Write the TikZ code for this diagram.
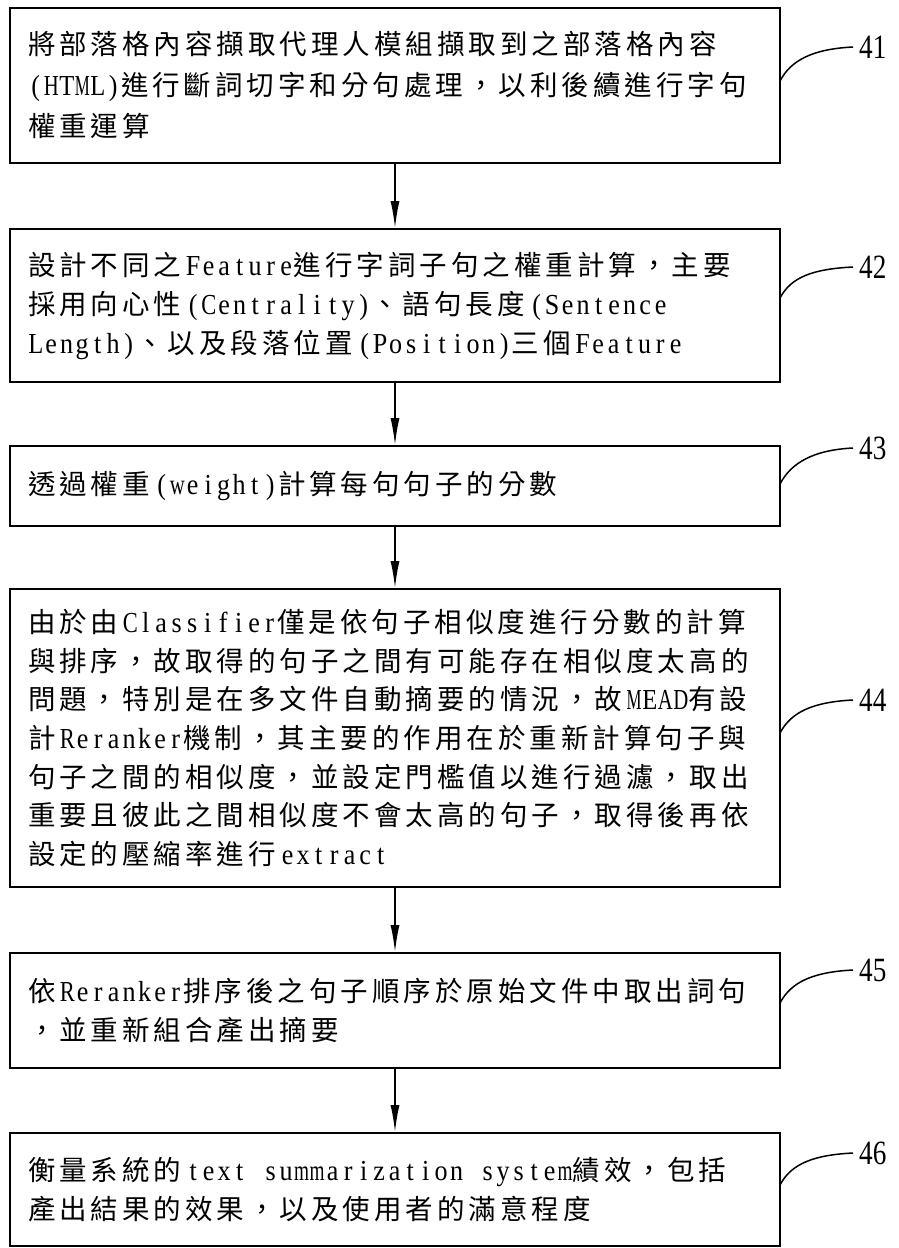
\documentclass[tikz,border=0pt]{standalone}
\usepackage{fontspec}
\setmainfont{Liberation Serif}
\newfontfamily\cjkf{Noto Sans CJK TC}
\newfontfamily\enf[FakeStretch=0.9]{Liberation Serif}
\newfontfamily\numf[FakeStretch=0.8]{Liberation Serif}
\usetikzlibrary{arrows.meta,calc}
% inter-character tracking for CJK (full-width cells of 31.5pt)
\newlength\cjkgap \setlength\cjkgap{4pt}
\makeatletter
\@tempcnta="3000
\loop
  \XeTeXcharclass\@tempcnta=200
  \advance\@tempcnta\@ne
\ifnum\@tempcnta<"A000 \repeat
\XeTeXcharclass"FF0C=200
\XeTeXinterchartokenstate=1
\XeTeXinterchartoks 200 200 = {\kern\cjkgap\relax}
% half-width Latin cells of 15.5pt
\newlength\encell \setlength\encell{15.5pt}
\newlength\enmax \setlength\enmax{15pt}
\newlength\enw
\newcommand\ENc[1]{\settowidth\enw{#1}\makebox[\encell][c]{\ifdim\enw>\enmax\scalebox{\fpeval{\enmax/\enw}}[1]{#1}\else#1\fi}}
\newcommand\ENs[1]{{\enf\fontsize{29}{39}\selectfont\@tfor\en@c:=#1\do{\ENc{\en@c}}}}
\newcommand\EN[1]{\kern\cjkgap\ENs{#1}}
\makeatother
\tikzset{
  stepbox/.style={draw, line width=1.8pt, minimum width=770pt, text width=734pt,
    inner xsep=18pt, inner ysep=0pt, align=left,
    font=\cjkf\fontsize{27.5}{39}\selectfont},
  arr/.style={line width=1.6pt, -{Latex[length=27pt,width=9pt]}},
  lead/.style={line width=1.5pt},
  lab/.style={anchor=west, inner xsep=6pt, inner ysep=0pt,
    font=\numf\fontsize{34}{34}\selectfont}
}
\begin{document}
\begin{tikzpicture}[x=1pt,y=-1pt]
\fill[white] (0,0) rectangle (899,1248);
\useasboundingbox (0,0) rectangle (899,1248);

\node[stepbox, minimum height=155pt, font=\cjkf\fontsize{27.5}{41}\selectfont] (b41) at (395,85.5) {將部落格內容擷取代理人模組擷取到之部落格內容\\\ENs{(HTML)}進行斷詞切字和分句處理，以利後續進行字句\\權重運算};
\node[stepbox, minimum height=153pt] (b42) at (395,305.5) {設計不同之\EN{Feature}進行字詞子句之權重計算，主要\\採用向心性\EN{(Centrality)}、語句長度\EN{(Sentence}\\\ENs{Length)}、以及段落位置\EN{(Position)}三個\EN{Feature}};
\node[stepbox, minimum height=80pt] (b43) at (395,486) {透過權重\EN{(weight)}計算每句句子的分數};
\node[stepbox, minimum height=298pt, font=\cjkf\fontsize{27.5}{38.7}\selectfont] (b44) at (395,738) {由於由\EN{Classifier}僅是依句子相似度進行分數的計算\\與排序，故取得的句子之間有可能存在相似度太高的\\問題，特別是在多文件自動摘要的情況，故\EN{MEAD}有設\\計\EN{Reranker}機制，其主要的作用在於重新計算句子與\\句子之間的相似度，並設定門檻值以進行過濾，取出\\重要且彼此之間相似度不會太高的句子，取得後再依\\設定的壓縮率進行\EN{extract}};
\node[stepbox, minimum height=115pt] (b45) at (395,1010.5) {依\EN{Reranker}排序後之句子順序於原始文件中取出詞句\\，並重新組合產出摘要};
\node[stepbox, minimum height=113pt] (b46) at (395,1189.5) {衡量系統的\EN{text~summarization~system}績效，包括\\產出結果的效果，以及使用者的滿意程度};

\draw[arr] (b41) -- (b42);
\draw[arr] (b42) -- (b43);
\draw[arr] (b43) -- (b44);
\draw[arr] (b44) -- (b45);
\draw[arr] (b45) -- (b46);

\coordinate (s41) at (780,81);
\coordinate (s42) at (780,298);
\coordinate (s43) at (780,484);
\coordinate (s44) at (780,733);
\coordinate (s45) at (780,1003);
\coordinate (s46) at (780,1185);
\node[lab] (n41) at (853,47) {41};
\node[lab] (n42) at (853,267) {42};
\node[lab] (n43) at (853,448) {43};
\node[lab] (n44) at (853,700) {44};
\node[lab] (n45) at (853,970) {45};
\node[lab] (n46) at (853,1153) {46};
\foreach \i in {41,42,43,44,45,46}{
  \draw[lead] (s\i) .. controls ($(s\i)+(11,-21)$) and ($(n\i.west)+(-40,2)$) .. (n\i.west);
}
\end{tikzpicture}
\end{document}
